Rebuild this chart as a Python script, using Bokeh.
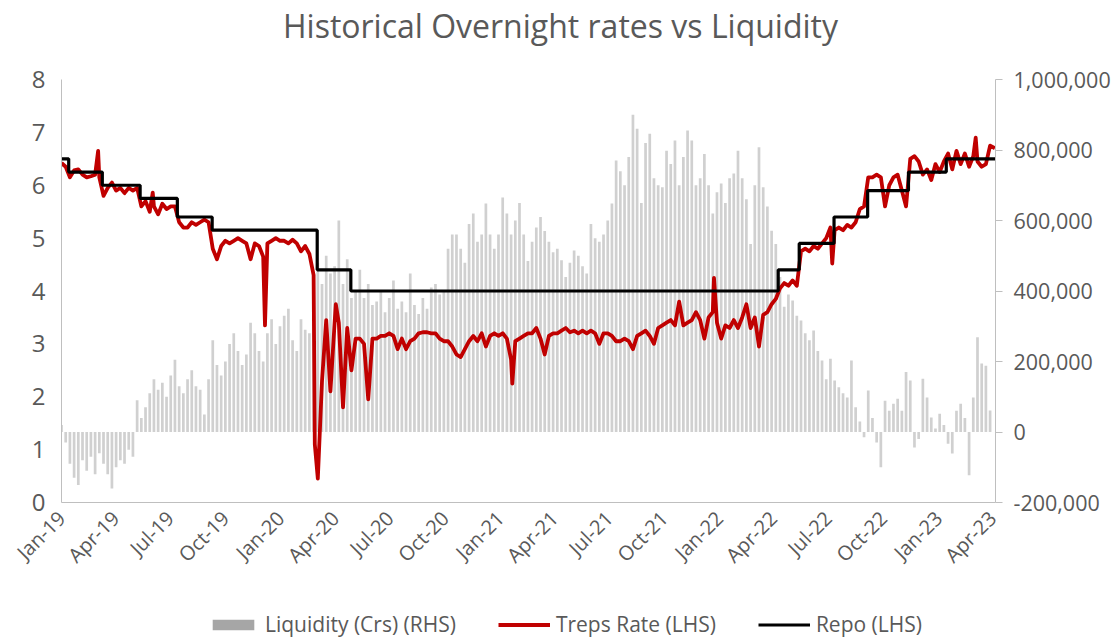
import pandas as pd
from math import pi
from bokeh.plotting import figure
from bokeh.layouts import column
from bokeh.models import (Range1d, LinearAxis, FixedTicker, DatetimeTickFormatter,
                          NumeralTickFormatter, Legend, LegendItem, ColumnDataSource)
from bokeh.core.properties import value
from bokeh.embed import file_html
from bokeh.resources import INLINE

# ---------------- data ----------------
title_text = "Historical Overnight rates vs Liquidity"
start_date = "2019-01-26"
end_date = "2023-05-01"
n_weeks = 222
week_dates = pd.date_range(start_date, periods=n_weeks, freq="7D")

# weekly net liquidity, thousand Crs
liquidity_k = [
    20, -30, -90, -130, -150, -80, -110, -70, -120, -60, -90, -120, -160, -100, -80, -90, -50, -70,
    90, 40, 70, 110, 150, 120, 140, 100, 160, 205, 130, 110, 150, 175, 130, 120, 50, 150, 260, 190,
    160, 200, 250, 280, 230, 190, 220, 310, 280, 230, 200, 280, 320, 250, 300, 330, 350, 260, 230, 320,
    290, 280,
    350, 480, 420, 500, 450, 470, 600, 420, 490, 380, 400, 460, 380, 420, 360, 370, 400,
    340, 380, 430, 350, 370, 340, 450, 360, 335, 380, 350, 410, 420, 390, 400,
    520, 560, 560, 520, 480, 590, 620, 540, 560, 648, 560, 520, 560, 665, 620, 560, 600, 650, 560, 485,
    540, 580, 610, 570, 540, 510, 520, 487, 440, 480, 515, 500, 470, 450, 590, 550, 540, 560, 600, 648,
    770, 740, 700, 780, 900, 860, 650, 820, 846, 720, 700, 694, 798, 760, 827, 700, 780, 855, 827, 700,
    720, 789, 700, 620, 680, 705, 650, 720, 733, 798, 720, 660, 533, 700, 808, 694, 640, 571, 533, 440,
    355, 390, 373, 330, 316, 280, 260, 288, 230, 203, 150, 208, 146, 127, 110, 98, 203, 70, 30, -15,
    118, 40, -30, -100, 89, 60, 80, 94, 60, 170, 146, -44, -20, 151, 98, 41, 10, 52, 20, -33,
    -61, 60, 80, 40, -123, 98, 269, 194, 188, 61,
]
liquidity = [v * 1000 for v in liquidity_k]

# weekly TREPS rate (%)
treps_weekly = [
    6.42, 6.35, 6.15, 6.28, 6.30, 6.20, 6.15, 6.17, 6.20, 6.15,
    5.80, 5.95, 6.05, 5.90, 5.95, 5.85, 5.95, 5.90, 5.95, 5.60,
    5.70, 5.50, 5.60, 5.45, 5.65, 5.55, 5.60, 5.60, 5.30, 5.20,
    5.20, 5.30, 5.25, 5.30, 5.35, 5.30, 4.80, 4.60, 4.85, 4.95,
    4.90, 4.95, 5.00, 4.95, 4.90, 4.60, 4.90, 4.85, 4.65, 4.90,
    4.95, 5.00, 4.95, 4.95, 4.90, 4.97, 4.90, 4.75, 4.85, 4.70,
    4.30, 0.45, 2.30, 3.45, 2.10, 3.40, 3.40, 1.80, 3.30, 2.50,
    3.10, 3.10, 3.00, 1.95, 3.10, 3.10, 3.15, 3.15, 3.20, 3.15,
    2.90, 3.10, 2.90, 3.05, 3.10, 3.20, 3.22, 3.22, 3.20, 3.20,
    3.10, 3.05, 3.05, 2.95, 2.80, 2.75, 2.90, 3.05, 3.15, 3.05,
    3.20, 2.95, 3.15, 3.20, 3.15, 3.20, 3.10, 2.70, 3.05, 3.10,
    3.15, 3.20, 3.20, 3.30, 3.10, 2.80, 3.15, 3.20, 3.20, 3.25,
    3.30, 3.22, 3.25, 3.20, 3.25, 3.20, 3.25, 3.20, 3.00, 3.20,
    3.20, 3.15, 3.05, 3.05, 3.10, 3.05, 2.90, 3.15, 3.20, 3.25,
    3.15, 3.00, 3.30, 3.35, 3.40, 3.45, 3.35, 3.80, 3.35, 3.40,
    3.45, 3.60, 3.45, 3.10, 3.50, 3.60, 3.40, 3.10, 3.35, 3.30,
    3.45, 3.30, 3.50, 3.75, 3.30, 3.50, 2.95, 3.55, 3.60, 3.75,
    3.85, 4.05, 4.15, 4.10, 4.20, 4.10, 4.75, 4.80, 4.75, 4.85,
    4.80, 4.90, 5.00, 5.20, 5.15, 5.20, 5.15, 5.25, 5.20, 5.30,
    5.55, 5.60, 6.15, 6.15, 6.20, 6.15, 5.60, 6.00, 6.15, 6.20,
    5.90, 5.60, 6.50, 6.55, 6.45, 6.20, 6.30, 6.10, 6.40, 6.25,
    6.45, 6.60, 6.30, 6.65, 6.40, 6.60, 6.35, 6.55, 6.45, 6.35,
    6.40, 6.75,
]
# individual spike days of the TREPS rate
treps_spike_dates = ["2019-03-28", "2019-06-27", "2019-12-31", "2020-03-23", "2020-04-27",
                     "2021-02-15", "2022-01-17", "2022-08-02", "2023-03-29", "2023-04-30"]
treps_spike_values = [6.65, 5.86, 3.35, 1.10, 3.75, 2.25, 4.25, 4.52, 6.90, 6.70]

# policy repo rate (%), value holds from each date
repo_dates = ["2019-01-26", "2019-02-07", "2019-04-04", "2019-06-06", "2019-08-07", "2019-10-04",
              "2020-03-27", "2020-05-22", "2022-05-04", "2022-06-08", "2022-08-05", "2022-09-30",
              "2022-12-07", "2023-02-08", "2023-05-01"]
repo_rates = [6.50, 6.25, 6.00, 5.75, 5.40, 5.15, 4.40, 4.00, 4.40, 4.90, 5.40, 5.90, 6.25, 6.50, 6.50]

tick_dates = ["2019-01-26", "2019-04-26", "2019-07-26", "2019-10-26", "2020-01-26", "2020-04-26",
              "2020-07-26", "2020-10-26", "2021-01-26", "2021-04-26", "2021-07-26", "2021-10-26",
              "2022-01-26", "2022-04-26", "2022-07-26", "2022-10-26", "2023-01-26", "2023-04-26"]
left_ticks = [0, 1, 2, 3, 4, 5, 6, 7, 8]
right_ticks = [-200000, 0, 200000, 400000, 600000, 800000, 1000000]
legend_labels = ["Liquidity (Crs) (RHS)", "Treps Rate (LHS)", "Repo (LHS)"]

# ---------------- style ----------------
FONT = "Open Sans"
TXT = "#595959"
AX = "#bfbfbf"
W = 1117
H_TITLE, H_CHART, H_LEG = 60, 532, 46
FRAME_L, FRAME_R = 61, 995


def bare(height):
    # strip whose frame lines up with the chart frame; x in page pixels
    f = figure(width=W, height=height, x_range=Range1d(FRAME_L, FRAME_R), y_range=Range1d(0, height),
               output_backend="svg", toolbar_location=None, title=None,
               x_axis_location=None, y_axis_location=None,
               min_border_left=FRAME_L, min_border_right=W - FRAME_R,
               min_border_top=0, min_border_bottom=0)
    f.outline_line_color = None
    f.xgrid.visible = False
    f.ygrid.visible = False
    return f


# ---------------- title strip ----------------
pt = bare(H_TITLE)
pt.text(x=[560], y=[H_TITLE - 25], text=[title_text], text_align="center", text_baseline="middle",
        text_font=value(FONT), text_font_size="32px", text_color=TXT)

# ---------------- main chart ----------------
treps_df = pd.concat([
    pd.DataFrame({"date": week_dates, "rate": treps_weekly}),
    pd.DataFrame({"date": pd.to_datetime(treps_spike_dates), "rate": treps_spike_values}),
]).sort_values("date")

p = figure(width=W, height=H_CHART, x_axis_type="datetime",
           x_range=Range1d(pd.Timestamp(start_date), pd.Timestamp(end_date)),
           y_range=Range1d(0, 8), title=None,
           output_backend="svg", toolbar_location=None,
           min_border_left=FRAME_L, min_border_right=W - FRAME_R, min_border_top=79 - H_TITLE,
           min_border_bottom=H_CHART - (502 - H_TITLE))
p.extra_y_ranges = {"liq": Range1d(-200000, 1000000)}
p.outline_line_color = None
p.xgrid.visible = False
p.ygrid.visible = False

p.vbar(x=week_dates, top=liquidity, bottom=0, width=4.5 * 86400000,
       y_range_name="liq", fill_color="#d0d0d0", line_color=None)
p.line(x="date", y="rate", source=ColumnDataSource(treps_df),
       line_color="#c00000", line_width=3.8, line_join="round")
p.step(x=pd.to_datetime(repo_dates), y=repo_rates, mode="after",
       line_color="#000000", line_width=3.2)

ya = p.yaxis[0]
ya.ticker = FixedTicker(ticks=left_ticks)
ya.axis_line_color = AX
ya.major_tick_line_color = None
ya.minor_tick_line_color = None
ya.major_label_text_font = FONT
ya.major_label_text_font_size = "24px"
ya.major_label_text_color = TXT
ya.major_label_standoff = 10

ra = LinearAxis(y_range_name="liq", ticker=FixedTicker(ticks=right_ticks),
                formatter=NumeralTickFormatter(format="0,0"))
ra.axis_line_color = AX
ra.major_tick_line_color = AX
ra.major_tick_out = 7
ra.major_tick_in = 0
ra.minor_tick_line_color = None
ra.major_label_text_font = FONT
ra.major_label_text_font_size = "21.5px"
ra.major_label_text_color = TXT
ra.major_label_standoff = 11
p.add_layout(ra, "right")

xa = p.xaxis[0]
xa.ticker = FixedTicker(ticks=[pd.Timestamp(d).value / 1e6 for d in tick_dates])
fmt = "%b-%y"
xa.formatter = DatetimeTickFormatter(microseconds=fmt, milliseconds=fmt, seconds=fmt, minsec=fmt,
                                     minutes=fmt, hourmin=fmt, hours=fmt, days=fmt, months=fmt,
                                     years=fmt)
xa.major_label_orientation = pi / 4
xa.axis_line_color = AX
xa.major_tick_line_color = None
xa.minor_tick_line_color = None
xa.major_label_text_font = FONT
xa.major_label_text_font_size = "20px"
xa.major_label_text_color = TXT
xa.major_label_standoff = 6

# ---------------- legend strip ----------------
# legend-only renderers: one point each, kept outside the strip's visible range
pl = bare(H_LEG)
off = [-1000]
r_liq = pl.vbar(x=off, top=off, bottom=off, width=1, fill_color="#a6a6a6", line_color=None)
r_treps = pl.line(x=off, y=off, line_color="#c00000", line_width=3.8)
r_repo = pl.line(x=off, y=off, line_color="#000000", line_width=3.2)
legend = Legend(items=[LegendItem(label=legend_labels[0], renderers=[r_liq]),
                       LegendItem(label=legend_labels[1], renderers=[r_treps]),
                       LegendItem(label=legend_labels[2], renderers=[r_repo])],
                orientation="horizontal", location=(146, 0),
                glyph_width=52, glyph_height=13, label_standoff=6, spacing=42,
                padding=0, margin=0, border_line_color=None, background_fill_alpha=0,
                label_text_font=FONT, label_text_font_size="21px", label_text_color=TXT)
pl.add_layout(legend)

layout = column(pt, p, pl, spacing=0)
open("out.html", "w").write(file_html(layout, INLINE))
